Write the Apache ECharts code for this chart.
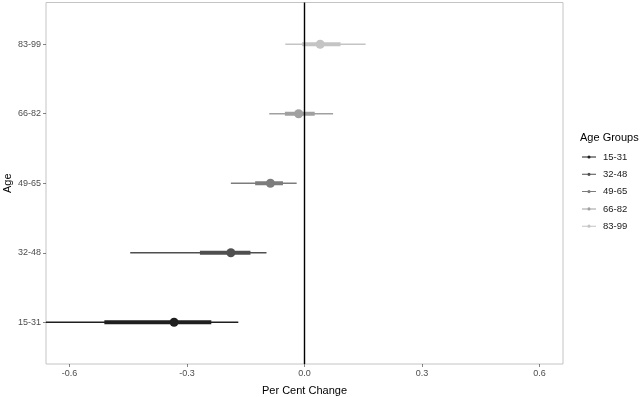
<!DOCTYPE html>
<html>
<head>
<meta charset="utf-8">
<script src="https://cdn.jsdelivr.net/npm/echarts@6/dist/echarts.min.js"></script>
<style>
html,body{margin:0;padding:0;background:#fff;}
#c{width:640px;height:397px;}
</style>
</head>
<body>
<div id="c"></div>
<script>
var groups = ['15-31', '32-48', '49-65', '66-82', '83-99'];
var estimate = [-0.333, -0.188, -0.087, -0.015, 0.040];
var lowInner = [-0.511, -0.267, -0.126, -0.050, -0.006];
var highInner = [-0.238, -0.138, -0.055, 0.026, 0.092];
var lowOuter = [-0.66, -0.445, -0.188, -0.090, -0.049];
var highOuter = [-0.169, -0.097, -0.020, 0.073, 0.156];
var colors = ['#1f1f1f', '#4f4f4f', '#7c7c7c', '#a0a0a0', '#c4c4c4'];
var xTicks = [-0.6, -0.3, 0.0, 0.3, 0.6];

var FONT = '"Liberation Sans", Arial, Helvetica, sans-serif';

function renderItem(params, api) {
  var y = api.value(5);
  var c = api.visual('color');
  var pOut0 = api.coord([api.value(3), y]);
  var pOut1 = api.coord([api.value(4), y]);
  var pIn0 = api.coord([api.value(1), y]);
  var pIn1 = api.coord([api.value(2), y]);
  var pE = api.coord([api.value(0), y]);
  return {
    type: 'group',
    children: [
      {type: 'line', shape: {x1: pOut0[0], y1: pOut0[1], x2: pOut1[0], y2: pOut1[1]}, style: {stroke: c, lineWidth: 1.5}},
      {type: 'line', shape: {x1: pIn0[0], y1: pIn0[1], x2: pIn1[0], y2: pIn1[1]}, style: {stroke: c, lineWidth: 4}},
      {type: 'circle', shape: {cx: pE[0], cy: pE[1], r: 4.5}, style: {fill: c}}
    ]
  };
}

var series = groups.map(function (g, i) {
  return {
    name: g,
    type: 'custom',
    renderItem: renderItem,
    clip: true,
    itemStyle: {color: colors[i]},
    encode: {x: [0, 1, 2, 3, 4], y: 5},
    data: [[estimate[i], lowInner[i], highInner[i], lowOuter[i], highOuter[i], i + 1]],
    z: 2
  };
});
series.push({
  type: 'line',
  data: [],
  z: 5,
  markLine: {
    silent: true,
    symbol: ['none', 'none'],
    label: {show: false},
    lineStyle: {color: '#000', width: 1.4, type: 'solid'},
    data: [{xAxis: 0}]
  }
});

var chart = echarts.init(document.getElementById('c'), null, {renderer: 'canvas'});
chart.setOption({
  animation: false,
  backgroundColor: '#fff',
  textStyle: {fontFamily: FONT},
  grid: {left: 46, right: 77, top: 2.5, bottom: 33, containLabel: false, outerBoundsMode: 'none',
         show: true, borderColor: '#c4c4c4', borderWidth: 1, backgroundColor: 'transparent'},
  title: {
    text: 'Age Groups', left: 575, top: 127,
    textStyle: {fontFamily: FONT, fontSize: 11, fontWeight: 'normal', color: '#000'}
  },
  legend: {
    orient: 'vertical', left: 577, top: 147,
    itemWidth: 14, itemHeight: 10, itemGap: 7.3,
    icon: 'path://M0,4.5H14V5.5H0Z M7,3.4A1.6,1.6 0 1,1 6.99,3.4Z',
    textStyle: {fontFamily: FONT, fontSize: 9.5, color: '#1a1a1a', padding: [0, 0, 0, 2]},
    data: groups
  },
  xAxis: {
    type: 'value', min: -0.66, max: 0.66,
    name: 'Per Cent Change', nameLocation: 'middle', nameGap: 21, nameMoveOverlap: false,
    nameTextStyle: {fontFamily: FONT, fontSize: 11, color: '#000'},
    axisLine: {show: false, onZero: false},
    splitLine: {show: false},
    axisTick: {show: true, length: 3, lineStyle: {color: '#333', width: 0.6}, customValues: xTicks},
    axisLabel: {
      customValues: xTicks, margin: 5, color: '#4d4d4d', fontSize: 9, fontFamily: FONT,
      formatter: function (v) { return v.toFixed(1); }
    }
  },
  yAxis: {
    type: 'value', min: 0.4, max: 5.6,
    name: 'Age', nameLocation: 'middle', nameGap: 33, nameRotate: 90, nameMoveOverlap: false,
    nameTextStyle: {fontFamily: FONT, fontSize: 11, color: '#000'},
    axisLine: {show: false, onZero: false},
    splitLine: {show: false},
    axisTick: {show: true, length: 3, lineStyle: {color: '#333', width: 0.6}, customValues: [1, 2, 3, 4, 5]},
    axisLabel: {
      customValues: [1, 2, 3, 4, 5], margin: 5, color: '#4d4d4d', fontSize: 9, fontFamily: FONT,
      formatter: function (v) { return groups[Math.round(v) - 1] || ''; }
    }
  },
  series: series
});
</script>
</body>
</html>
